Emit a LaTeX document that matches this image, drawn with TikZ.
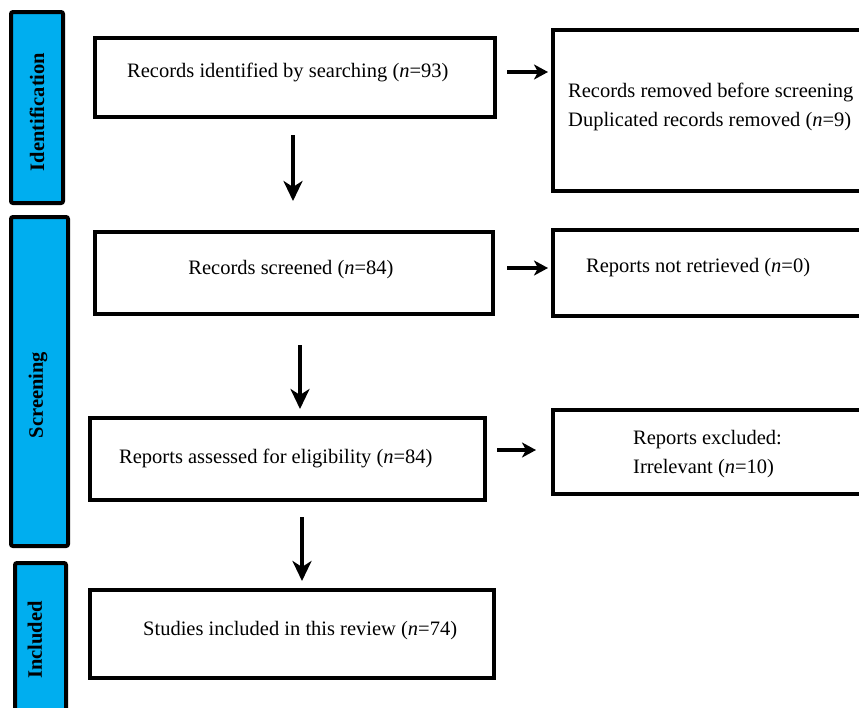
\documentclass[tikz,border=0pt]{standalone}
\usepackage{fontspec}
\setmainfont{Liberation Serif}
\usetikzlibrary{arrows.meta}
\definecolor{barblue}{RGB}{0,174,239}
\tikzset{
  box/.style={draw=black, line width=4pt, fill=white, inner sep=0pt},
  bar/.style={draw=black, line width=4pt, fill=barblue, rounded corners=2pt, inner sep=0pt},
  txt/.style={font=\fontsize{20.5}{29}\selectfont, inner sep=0pt, align=left},
  side/.style={font=\fontsize{20.5}{24}\selectfont\bfseries, rotate=90, inner sep=0pt},
  arr/.style={line width=4pt, -{Stealth[length=20pt,width=19pt,inset=6pt]}},
  harr/.style={line width=3.6pt, -{Stealth[length=14pt,width=15pt,inset=4pt]}}
}
\begin{document}
\begin{tikzpicture}[x=1pt,y=-1pt]
\clip (0,0) rectangle (859,707);
\fill[white] (0,0) rectangle (859,707);
% phase bars
\node[bar, minimum width=52pt, minimum height=191pt] (pid) at (37,107.5) {};
\node[side] (lid) at (37,112) {Identification};
\node[bar, minimum width=57pt, minimum height=329pt] (psc) at (39.5,381.5) {};
\node[side] (lsc) at (38,395) {Screening};
\node[bar, minimum width=51pt, minimum height=157pt] (pin) at (40.5,641.5) {};
\node[side] (lin) at (35,640) {Included};
% main boxes
\node[box, minimum width=400pt, minimum height=79pt] (b1) at (295,77.5) {};
\node[box, minimum width=398pt, minimum height=82pt] (b2) at (294,273) {};
\node[box, minimum width=395pt, minimum height=82pt] (b3) at (287.5,459) {};
\node[box, minimum width=404pt, minimum height=88pt] (b4) at (292,634) {};
% right boxes
\node[box, minimum width=327pt, minimum height=161pt] (r1) at (716.5,110.5) {};
\node[box, minimum width=327pt, minimum height=86pt] (r2) at (716.5,273) {};
\node[box, minimum width=327pt, minimum height=84pt] (r3) at (716.5,452) {};
% texts
\node[txt, anchor=west] (t1) at (127,72) {Records identified by searching (\textit{n}=93)};
\node[txt, anchor=west] (tr1) at (568,107) {Records removed before screening\\Duplicated records removed (\textit{n}=9)};
\node[txt] (t2) at (291,270) {Records screened (\textit{n}=84)};
\node[txt, anchor=west] (tr2) at (586,268) {Reports not retrieved (\textit{n}=0)};
\node[txt, anchor=west] (t3) at (119,458) {Reports assessed for eligibility (\textit{n}=84)};
\node[txt, anchor=west] (tr3) at (633,454) {Reports excluded:\\Irrelevant (\textit{n}=10)};
\node[txt, anchor=west] (t4) at (143,631) {Studies included in this review (\textit{n}=74)};
% horizontal connectors
\draw[harr, shorten <=10pt, shorten >=3pt] ([yshift=5.5pt]b1.east) -- ([yshift=5.5pt]b1.east -| r1.west);
\draw[harr, shorten <=12pt, shorten >=3pt] ([yshift=5pt]b2.east) -- ([yshift=5pt]b2.east -| r2.west);
\draw[harr, shorten <=10pt, shorten >=15pt] ([yshift=9pt]b3.east) -- ([yshift=9pt]b3.east -| r3.west);
% vertical connectors
\draw[arr, shorten <=16pt, shorten >=29pt] ([xshift=-2pt]b1.south) -- ([xshift=-2pt]b1.south |- b2.north);
\draw[arr, shorten <=29pt, shorten >=7pt] ([xshift=6pt]b2.south) -- ([xshift=6pt]b2.south |- b3.north);
\draw[arr, shorten <=15pt, shorten >=7pt] ([xshift=14.5pt]b3.south) -- ([xshift=14.5pt]b3.south |- b4.north);
\end{tikzpicture}
\end{document}
